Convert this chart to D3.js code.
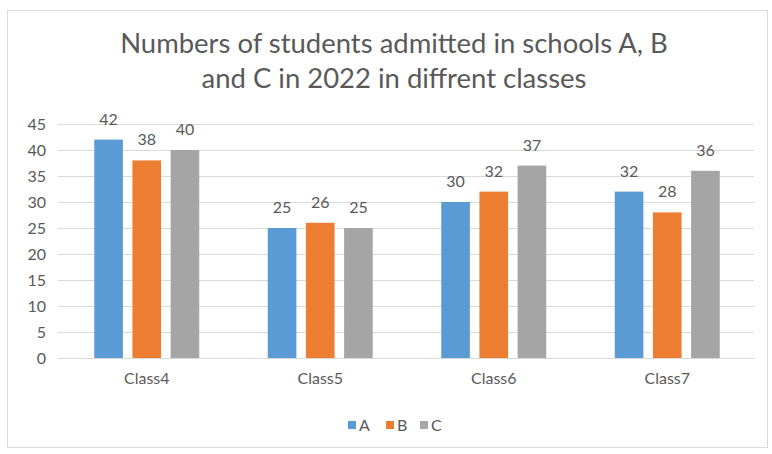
<!DOCTYPE html>
<html>
<head>
<meta charset="utf-8">
<script src="https://cdn.jsdelivr.net/npm/d3@7"></script>
<style>
  html, body { margin: 0; padding: 0; background: #fff; }
  svg { display: block; font-family: "Open Sans", "Liberation Sans", sans-serif; }
</style>
</head>
<body>
<svg id="chart" width="772" height="454"></svg>
<script>
const titleLines = ["Numbers of students admitted in schools A, B", "and C in 2022 in diffrent classes"];
const categories = ["Class4", "Class5", "Class6", "Class7"];
const seriesNames = ["A", "B", "C"];
const valuesA = [42, 25, 30, 32];
const valuesB = [38, 26, 32, 28];
const valuesC = [40, 25, 37, 36];
const yTicks = [0, 5, 10, 15, 20, 25, 30, 35, 40, 45];
const colors = ["#5B9BD5", "#ED7D31", "#A5A5A5"];

const seriesValues = [valuesA, valuesB, valuesC];
const svg = d3.select("#chart");
const textColor = "#595959";
const font = "Lato, 'Open Sans', sans-serif";

// outer border
svg.append("rect").attr("x", 7.5).attr("y", 10.5).attr("width", 760).attr("height", 437)
  .attr("fill", "#fff").attr("stroke", "#d9d9d9").attr("stroke-width", 1);

// title
const tt = svg.append("g").selectAll("text").data(titleLines).join("text")
  .attr("x", 394).attr("y", (d, i) => 53 + i * 35)
  .attr("text-anchor", "middle").attr("font-size", 25).attr("fill", textColor)
  .attr("font-family", font)
  .text(d => d);
// fit first line to reference width (~548px)
const w0 = tt.nodes()[0].getComputedTextLength();
if (w0 > 0) tt.attr("font-size", 25 * 548 / w0);

const x0 = d3.scaleBand().domain(categories).range([60, 754]).padding(0);
const groupW = 105;
const x1 = d3.scaleBand().domain(seriesNames).range([0, groupW]).paddingInner(0.25).paddingOuter(0);
const y = d3.scaleLinear().domain([0, 45]).range([358, 124]);

// gridlines
const gridAxis = d3.axisLeft(y).tickValues(yTicks).tickSize(-(754 - 58)).tickFormat("");
const gg = svg.append("g").attr("transform", "translate(58,0)").call(gridAxis);
gg.select(".domain").remove();
gg.selectAll("line").attr("stroke", "#d9d9d9").attr("stroke-width", 1);

// y tick labels
const yAxis = d3.axisLeft(y).tickValues(yTicks).tickSize(0).tickPadding(0);
const ya = svg.append("g").attr("transform", "translate(46,0)").call(yAxis);
ya.select(".domain").remove();
ya.selectAll("text").attr("font-size", 16).attr("fill", textColor).attr("font-family", font);

// bars
const groups = svg.append("g").selectAll("g").data(categories).join("g")
  .attr("transform", d => `translate(${x0(d) + (x0.bandwidth() - groupW) / 2},0)`);

groups.selectAll("rect").data((d, ci) => seriesNames.map((s, si) => ({ s, si, v: seriesValues[si][ci] })))
  .join("rect")
  .attr("x", d => x1(d.s))
  .attr("width", x1.bandwidth())
  .attr("y", d => y(d.v))
  .attr("height", d => y(0) - y(d.v))
  .attr("fill", d => colors[d.si]);

groups.selectAll("text").data((d, ci) => seriesNames.map((s, si) => ({ s, si, v: seriesValues[si][ci] })))
  .join("text")
  .attr("x", d => x1(d.s) + x1.bandwidth() / 2)
  .attr("y", d => y(d.v) - 15)
  .attr("text-anchor", "middle").attr("font-size", 16).attr("fill", textColor)
  .attr("font-family", font)
  .text(d => d.v);

// x axis
const xAxis = d3.axisBottom(x0).tickSize(0).tickPadding(0);
const xa = svg.append("g").attr("transform", "translate(0,358)").call(xAxis);
xa.select(".domain").attr("stroke", "#d9d9d9");
xa.selectAll("text").attr("font-size", 16).attr("fill", textColor).attr("dy", "1.6em")
  .attr("font-family", font);

// legend
const legendX = [348, 386, 420];
const lg = svg.append("g").selectAll("g").data(seriesNames).join("g")
  .attr("transform", (d, i) => `translate(${legendX[i]},425)`);
lg.append("rect").attr("x", 0).attr("y", -4).attr("width", 8).attr("height", 8)
  .attr("fill", (d, i) => colors[i]);
lg.append("text").attr("x", 11).attr("y", 6).attr("font-size", 16).attr("fill", textColor)
  .attr("font-family", font).text(d => d);
</script>
</body>
</html>
